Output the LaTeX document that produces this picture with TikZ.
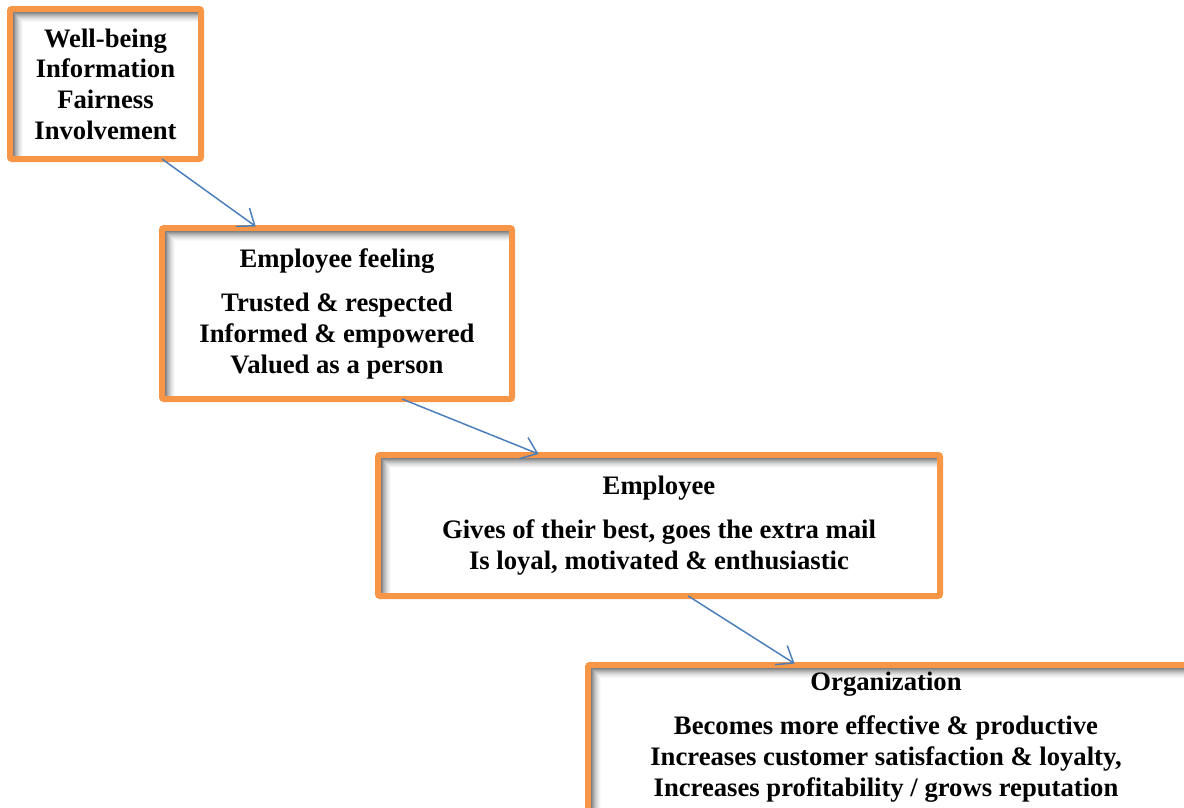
\documentclass[tikz,border=0pt]{standalone}
\usepackage{fontspec}
\setmainfont{Liberation Serif}
\usetikzlibrary{arrows.meta,calc}
\definecolor{boxorange}{HTML}{F79646}
\definecolor{arrowblue}{HTML}{4A7EBB}
\definecolor{shA}{HTML}{808080}
\definecolor{shB}{HTML}{939393}
\definecolor{shC}{HTML}{A5A5A5}
\definecolor{shD}{HTML}{B6B6B6}
\definecolor{shE}{HTML}{C5C5C5}
\definecolor{shF}{HTML}{D3D3D3}
\definecolor{shG}{HTML}{DFDFDF}
\definecolor{shH}{HTML}{E9E9E9}
\definecolor{shI}{HTML}{F2F2F2}
\definecolor{shJ}{HTML}{F9F9F9}
\begin{document}
\begin{tikzpicture}[x=0.75pt,y=-0.75pt,
  box/.style={draw=boxorange, line width=4.5pt, fill=white, rounded corners=1.5pt, outer sep=0pt,
    align=center, inner sep=0pt, font=\fontsize{20}{23}\selectfont\bfseries},
  boxtext/.style={align=center, inner sep=0pt, font=\fontsize{20}{23}\selectfont\bfseries},
  conn/.style={draw=arrowblue, line width=1.1pt, shorten >=2pt,
    -{Straight Barb[length=11pt,width=17pt,line width=1.1pt]}}]
\useasboundingbox (0,0) rectangle (1184,807);
\clip (0,0) rectangle (1184,807);
\fill[white] (0,0) rectangle (1184,807);

\node[box, minimum width=143.25pt, minimum height=112.5pt] (b1) at (105.5,84)
  {Well-being\\Information\\Fairness\\Involvement};
\node[box, minimum width=262.5pt, minimum height=128.25pt] (b2) at (337,313.5)
  {Employee feeling\\[10.5pt]Trusted \& respected\\Informed \& empowered\\Valued as a person};
\node[box, minimum width=421.5pt, minimum height=105.75pt] (b3) at (659,525.5)
  {Employee\\[10.5pt]Gives of their best, goes the extra mail\\Is loyal, motivated \& enthusiastic};
\node[box, minimum width=450pt, minimum height=120pt, anchor=north west] (b4) at (588,665) {};

% inner shadows along the top and left edges (anchors lie on the border centre line)
\foreach \b in {b1,b2,b3,b4}{
  \foreach \da/\db/\c in {2.2/3.0/shA,3.0/3.75/shB,3.75/4.5/shC,4.5/5.25/shD,5.25/6.0/shE,6.0/6.75/shF,6.75/7.5/shG,7.5/8.25/shH,8.25/9.0/shI,9.0/9.75/shJ}{
    \fill[\c] ([xshift=\da pt,yshift=-\da pt]\b.north west) rectangle ([xshift=-2.2pt,yshift=-\db pt]\b.north east);
    \fill[\c] ([xshift=\da pt,yshift=-\db pt]\b.north west) rectangle ([xshift=\db pt,yshift=2.2pt]\b.south west);
  }
}

\node[boxtext] (t4) at (886,737)
  {Organization\\[10.5pt]Becomes more effective \& productive\\Increases customer satisfaction \& loyalty,\\Increases profitability / grows reputation};

\draw[conn] ($(b1.south west)!0.796!(b1.south east)$) -- ($(b2.north west)!0.274!(b2.north east)$);
\draw[conn] ($(b2.south west)!0.686!(b2.south east)$) -- ($(b3.north west)!0.29!(b3.north east)$);
\draw[conn] ($(b3.south west)!0.552!(b3.south east)$) -- ($(b4.north west)!0.348!(b4.north east)$);
\end{tikzpicture}
\end{document}
